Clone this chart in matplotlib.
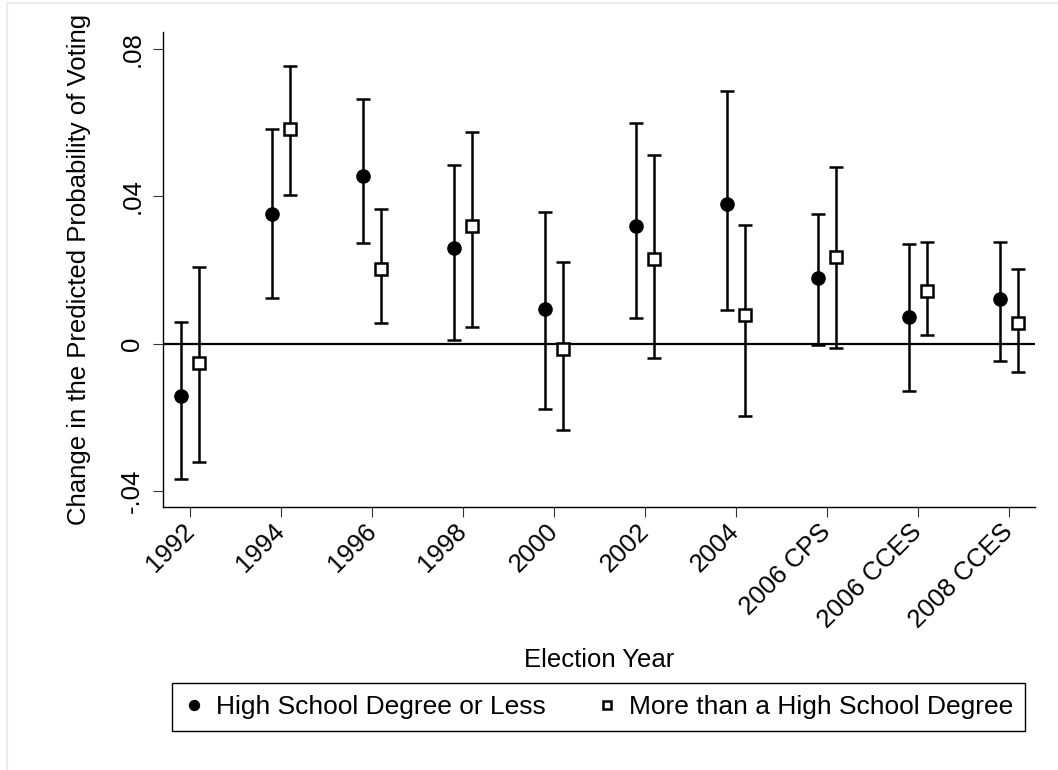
import numpy as np
import matplotlib
matplotlib.use('Agg')
import matplotlib.pyplot as plt
from matplotlib.patches import Rectangle

plt.rcParams['font.family'] = ['Liberation Sans', 'DejaVu Sans']

years = ['1992', '1994', '1996', '1998', '2000', '2002', '2004',
         '2006 CPS', '2006 CCES', '2008 CCES']

# high school degree or less
hs_est = [-0.0141, 0.0351, 0.0456, 0.0261, 0.0093, 0.0320, 0.0379, 0.0178, 0.0072, 0.0121]
hs_lo = [-0.0366, 0.0123, 0.0273, 0.0010, -0.0176, 0.0069, 0.0092, -0.0004, -0.0128, -0.0047]
hs_hi = [0.0058, 0.0584, 0.0664, 0.0486, 0.0357, 0.0599, 0.0686, 0.0352, 0.0270, 0.0276]

# more than a high school degree
mo_est = [-0.0051, 0.0582, 0.0204, 0.0320, -0.0015, 0.0231, 0.0078, 0.0235, 0.0144, 0.0055]
mo_lo = [-0.0322, 0.0403, 0.0055, 0.0046, -0.0234, -0.0038, -0.0196, -0.0011, 0.0025, -0.0077]
mo_hi = [0.0208, 0.0754, 0.0367, 0.0575, 0.0222, 0.0512, 0.0323, 0.0481, 0.0275, 0.0202]

yt = [-0.04, 0, 0.04, 0.08]
yt_lab = ['-.04', '0', '.04', '.08']

x = np.arange(1, len(years) + 1)
xh = x - 0.1
xm = x + 0.1

fs = 18.5

fig = plt.figure(figsize=(10.58, 7.7), dpi=100)
ax = fig.add_axes([163/1058., 1 - 507/770., 872/1058., 475/770.])

# light outer frame
fig.patches.append(Rectangle((7/1058., -0.1), 1.2, 1.1 - 3/770., transform=fig.transFigure,
                             fill=False, ec='#e6eef0', lw=1.5))

ax.axhline(0, color='black', lw=1.6, zorder=1)

hs_err = [np.array(hs_est) - np.array(hs_lo), np.array(hs_hi) - np.array(hs_est)]
mo_err = [np.array(mo_est) - np.array(mo_lo), np.array(mo_hi) - np.array(mo_est)]
ax.errorbar(xh, hs_est, yerr=hs_err, fmt='none', ecolor='black', elinewidth=1.8,
            capsize=4.8, capthick=1.8, zorder=2)
ax.errorbar(xm, mo_est, yerr=mo_err, fmt='none', ecolor='black', elinewidth=1.8,
            capsize=4.8, capthick=1.8, zorder=2)

ax.plot(xh, hs_est, 'o', color='black', ms=9.5, ls='none', zorder=3,
        label='High School Degree or Less')
ax.plot(xm, mo_est, 's', mfc='white', mec='black', mew=1.8, ms=8.5, ls='none', zorder=3,
        label='More than a High School Degree')

ax.set_xlim(0.70, 10.29)
ax.set_ylim(-0.0443, 0.0846)

ax.set_xticks(x)
ax.set_xticklabels(years, rotation=45, ha='right', va='center', rotation_mode='anchor',
                   fontsize=fs)
ax.set_yticks(yt)
ax.set_yticklabels(yt_lab, rotation=90, va='center', fontsize=fs)
ax.tick_params(direction='out', length=7, width=0.8, color='#333333')
ax.tick_params(axis='x', pad=8)
ax.tick_params(axis='y', pad=6.5)

for s in ['top', 'right']:
    ax.spines[s].set_visible(False)
for s in ['left', 'bottom']:
    ax.spines[s].set_linewidth(1.0)

ax.set_ylabel('Change in the Predicted Probability of Voting', fontsize=fs)
ax.yaxis.set_label_coords(-0.0825, 0.5)
ax.set_xlabel('Election Year', fontsize=fs, va='center')
ax.xaxis.set_label_coords(0.5, (507 - 660) / 475.)

leg = ax.legend(loc='center', bbox_to_anchor=(598.5/1058., 1 - 707/770.),
                bbox_transform=fig.transFigure, ncol=2, fontsize=19, frameon=True,
                fancybox=False, edgecolor='black', framealpha=1, handlelength=0.8,
                handletextpad=0.45, columnspacing=1.9, borderpad=0.45, markerscale=0.75)
leg.get_frame().set_linewidth(1.0)

fig.savefig('out.png', dpi=100)
